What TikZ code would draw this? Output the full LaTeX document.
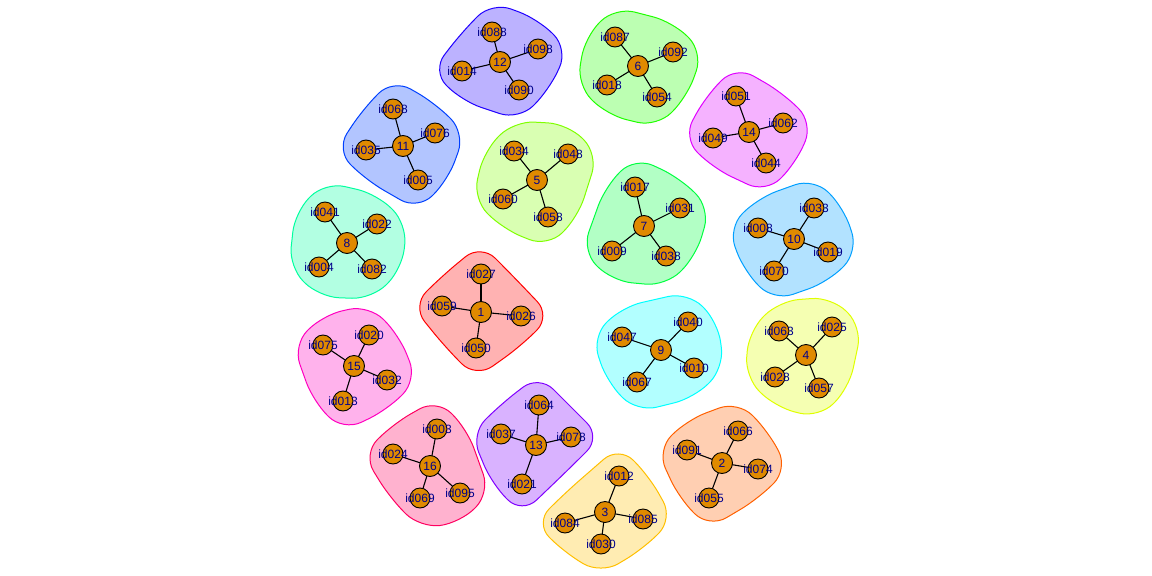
\documentclass[tikz,border=0pt]{standalone}
\usepackage{fontspec}
\setmainfont{Liberation Sans}
\usetikzlibrary{backgrounds}
\definecolor{vxOrange}{HTML}{E08A00}
\definecolor{lblBlue}{HTML}{00008B}
\definecolor{h1}{HTML}{FF0000}
\definecolor{h2}{HTML}{FF6000}
\definecolor{h3}{HTML}{FFBF00}
\definecolor{h4}{HTML}{DFFF00}
\definecolor{h5}{HTML}{80FF00}
\definecolor{h6}{HTML}{20FF00}
\definecolor{h7}{HTML}{00FF40}
\definecolor{h8}{HTML}{00FF9F}
\definecolor{h9}{HTML}{00FFFF}
\definecolor{h10}{HTML}{009FFF}
\definecolor{h11}{HTML}{0040FF}
\definecolor{h12}{HTML}{2000FF}
\definecolor{h13}{HTML}{8000FF}
\definecolor{h14}{HTML}{DF00FF}
\definecolor{h15}{HTML}{FF00BF}
\definecolor{h16}{HTML}{FF0060}
\newcommand\blobpad{30pt}
% group hull: colour, then the leaves extreme to NW, NE, SE, SW
\newcommand\blob[5]{%
  \path[blob=#1] ([xshift=-15pt,yshift=15pt]#2.center)
    -- ([yshift=\blobpad]#2.center) -- ([yshift=\blobpad]#3.center)
    -- ([xshift=\blobpad]#3.center) -- ([xshift=\blobpad]#4.center)
    -- ([yshift=-\blobpad]#4.center) -- ([yshift=-\blobpad]#5.center)
    -- ([xshift=-\blobpad]#5.center) -- ([xshift=-\blobpad]#2.center)
    -- ([xshift=-15pt,yshift=15pt]#2.center);}

\begin{document}
\begin{tikzpicture}[x=1pt,y=-1pt,
  hub/.style={circle,draw,line width=0.9pt,fill=vxOrange,minimum size=21pt,inner sep=0pt,
    text=lblBlue,font=\fontsize{12}{12}\selectfont},
  leaf/.style={circle,draw,line width=0.9pt,fill=vxOrange,minimum size=20pt,inner sep=0pt,
    label={[idtext]center:#1}},
  idtext/.style={text=lblBlue,font=\fontsize{12}{12}\selectfont,inner sep=0pt},
  link/.style={line width=1.1pt},
  blob/.style={draw=#1,fill=#1,fill opacity=0.3,line width=1pt,rounded corners=20pt}]
\useasboundingbox (0,0) rectangle (1152,576);

\node[hub] (g1) at (481,312) {1};
\node[leaf=id027] (n027) at (481,274) {};
\node[leaf=id059] (n059) at (442,306) {};
\node[leaf=id026] (n026) at (521,316) {};
\node[leaf=id050] (n050) at (476,348) {};

\node[hub] (g2) at (722,463) {2};
\node[leaf=id066] (n066) at (738,431) {};
\node[leaf=id091] (n091) at (687,450) {};
\node[leaf=id074] (n074) at (758,469) {};
\node[leaf=id055] (n055) at (709,498) {};

\node[hub] (g3) at (605,512) {3};
\node[leaf=id012] (n012) at (619,476) {};
\node[leaf=id084] (n084) at (565,523) {};
\node[leaf=id085] (n085) at (643,519) {};
\node[leaf=id030] (n030) at (601,544) {};

\node[hub] (g4) at (806,355) {4};
\node[leaf=id063] (n063) at (779,331) {};
\node[leaf=id025] (n025) at (832,327) {};
\node[leaf=id028] (n028) at (775,377) {};
\node[leaf=id057] (n057) at (819,388) {};

\node[hub] (g5) at (537,180) {5};
\node[leaf=id034] (n034) at (514,151) {};
\node[leaf=id048] (n048) at (568,154) {};
\node[leaf=id060] (n060) at (503,199) {};
\node[leaf=id058] (n058) at (548,217) {};

\node[hub] (g6) at (638,66) {6};
\node[leaf=id087] (n087) at (615,37) {};
\node[leaf=id092] (n092) at (673,52) {};
\node[leaf=id018] (n018) at (607,85) {};
\node[leaf=id054] (n054) at (657,97) {};

\node[hub] (g7) at (644,226) {7};
\node[leaf=id017] (n017) at (635,187) {};
\node[leaf=id031] (n031) at (680,208) {};
\node[leaf=id009] (n009) at (612,251) {};
\node[leaf=id038] (n038) at (666,256) {};

\node[hub] (g8) at (347,243) {8};
\node[leaf=id041] (n041) at (325,212) {};
\node[leaf=id022] (n022) at (377,224) {};
\node[leaf=id004] (n004) at (319,267) {};
\node[leaf=id082] (n082) at (372,269) {};

\node[hub] (g9) at (661,350) {9};
\node[leaf=id040] (n040) at (688,322) {};
\node[leaf=id047] (n047) at (622,337) {};
\node[leaf=id010] (n010) at (694,368) {};
\node[leaf=id067] (n067) at (637,382) {};

\node[hub] (g10) at (794,239) {10};
\node[leaf=id033] (n033) at (814,208) {};
\node[leaf=id008] (n008) at (758,228) {};
\node[leaf=id019] (n019) at (828,252) {};
\node[leaf=id070] (n070) at (774,271) {};

\node[hub] (g11) at (403,146) {11};
\node[leaf=id068] (n068) at (393,109) {};
\node[leaf=id076] (n076) at (435,133) {};
\node[leaf=id035] (n035) at (366,150) {};
\node[leaf=id005] (n005) at (418,180) {};

\node[hub] (g12) at (500,62) {12};
\node[leaf=id088] (n088) at (492,32) {};
\node[leaf=id098] (n098) at (538,49) {};
\node[leaf=id014] (n014) at (462,71) {};
\node[leaf=id090] (n090) at (519,90) {};

\node[hub] (g13) at (536,445) {13};
\node[leaf=id064] (n064) at (539,405) {};
\node[leaf=id037] (n037) at (501,434) {};
\node[leaf=id078] (n078) at (571,437) {};
\node[leaf=id021] (n021) at (522,484) {};

\node[hub] (g14) at (749,132) {14};
\node[leaf=id051] (n051) at (736,96) {};
\node[leaf=id062] (n062) at (783,123) {};
\node[leaf=id049] (n049) at (713,138) {};
\node[leaf=id044] (n044) at (766,163) {};

\node[hub] (g15) at (354,366) {15};
\node[leaf=id075] (n075) at (323,345) {};
\node[leaf=id020] (n020) at (369,335) {};
\node[leaf=id032] (n032) at (387,380) {};
\node[leaf=id013] (n013) at (343,401) {};

\node[hub] (g16) at (430,466) {16};
\node[leaf=id003] (n003) at (437,429) {};
\node[leaf=id024] (n024) at (393,454) {};
\node[leaf=id069] (n069) at (420,498) {};
\node[leaf=id095] (n095) at (460,493) {};

\begin{scope}[on background layer]
\blob{h1}{n059}{n027}{n026}{n050}
\blob{h2}{n091}{n066}{n074}{n055}
% group 3 has one leaf that is extreme on two sides
\path[blob=h3] ([xshift=-15pt,yshift=15pt]n084.center)
  -- ([yshift=\blobpad]n084.center) -- ([yshift=\blobpad]n012.center)
  -- ([xshift=\blobpad]n012.center) -- ([xshift=\blobpad]n085.center)
  -- ([yshift=-\blobpad]n085.center) -- ([yshift=-\blobpad]n030.center)
  -- ([yshift=-\blobpad]n084.center) -- ([xshift=-\blobpad]n084.center)
  -- ([xshift=-15pt,yshift=15pt]n084.center);
\blob{h4}{n063}{n025}{n057}{n028}
\blob{h5}{n034}{n048}{n058}{n060}
\blob{h6}{n087}{n092}{n054}{n018}
\blob{h7}{n017}{n031}{n038}{n009}
\blob{h8}{n041}{n022}{n082}{n004}
\blob{h9}{n047}{n040}{n010}{n067}
\blob{h10}{n008}{n033}{n019}{n070}
\blob{h11}{n068}{n076}{n005}{n035}
\blob{h12}{n088}{n098}{n090}{n014}
\blob{h13}{n037}{n064}{n078}{n021}
\blob{h14}{n051}{n062}{n044}{n049}
\blob{h15}{n075}{n020}{n032}{n013}
\blob{h16}{n024}{n003}{n095}{n069}
\foreach \c/\ls in {1/{027,059,026,050},2/{066,091,074,055},3/{012,084,085,030},
    4/{063,025,028,057},5/{034,048,060,058},6/{087,092,018,054},7/{017,031,009,038},
    8/{041,022,004,082},9/{040,047,010,067},10/{033,008,019,070},11/{068,076,035,005},
    12/{088,098,014,090},13/{064,037,078,021},14/{051,062,049,044},15/{075,020,032,013},
    16/{003,024,069,095}}
  \foreach \l in \ls \draw[link] (g\c.center) -- (n\l.center);
\end{scope}
\end{tikzpicture}
\end{document}
